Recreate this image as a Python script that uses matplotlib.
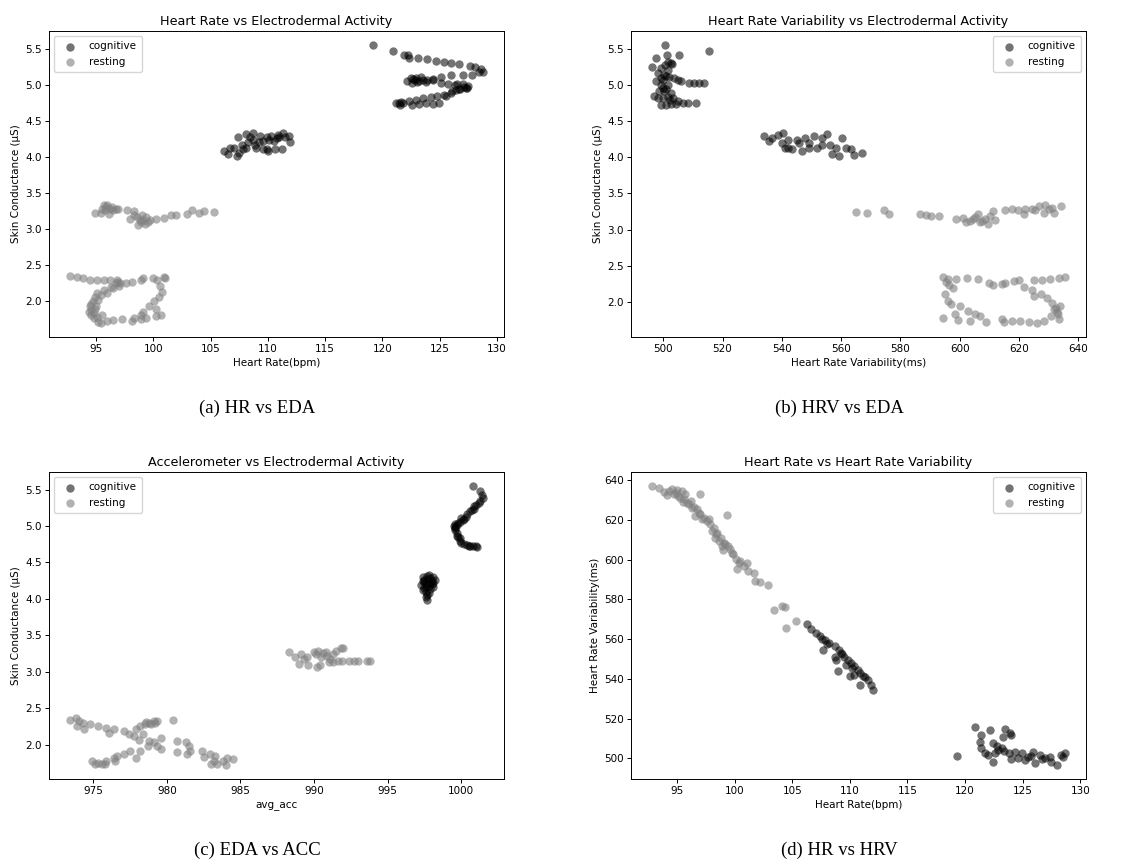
import numpy as np
import matplotlib
matplotlib.use("Agg")
import matplotlib.pyplot as plt

# ---- values, (x, y) per point ----

# (a) heart rate vs EDA
a_cog = [(119.2, 5.55), (120.9, 5.46), (121.9, 5.41), (122.2, 5.41), (122.3, 5.37), (123.1, 5.37),
         (123.9, 5.36), (124.7, 5.33), (125.4, 5.31), (126.0, 5.30), (126.7, 5.28), (127.6, 5.26),
         (128.1, 5.24), (128.6, 5.21), (128.8, 5.18), (128.4, 5.18), (127.8, 5.14), (127.0, 5.13),
         (126.0, 5.13), (125.1, 5.10), (124.4, 5.08), (123.5, 5.07), (122.9, 5.09), (122.5, 5.09),
         (122.1, 5.05), (122.6, 5.02), (123.2, 5.05), (123.8, 5.04), (124.4, 5.07), (125.1, 5.02),
         (125.7, 5.01), (126.3, 5.00), (127.0, 5.01), (127.3, 4.95), (126.8, 4.94), (126.4, 4.92),
         (126.0, 4.89), (125.4, 4.86), (124.8, 4.84), (124.2, 4.83), (123.5, 4.81), (122.9, 4.79),
         (122.3, 4.77), (121.8, 4.75), (121.2, 4.75), (121.5, 4.72), (122.6, 4.72), (123.2, 4.73),
         (123.8, 4.75), (124.4, 4.73), (124.9, 4.75), (125.5, 4.84), (126.1, 4.91), (126.7, 4.94),
         (127.4, 4.96), (126.5, 5.01), (123.4, 5.10), (123.9, 5.06), (122.8, 5.06), (123.0, 5.03),
         (121.4, 4.74), (121.6, 4.76), (127.1, 4.97), (127.5, 4.98), (122.7, 5.08),
         (106.2, 4.08), (106.5, 4.04), (107.0, 4.13), (107.3, 4.01), (107.4, 4.27), (107.7, 4.17),
         (108.1, 4.32), (108.3, 4.20), (108.7, 4.24), (109.0, 4.13), (109.3, 4.29), (109.6, 4.22),
         (109.9, 4.27), (110.0, 4.08), (110.3, 4.29), (110.6, 4.11), (110.9, 4.31), (111.2, 4.11),
         (111.5, 4.27), (111.8, 4.29), (111.9, 4.21), (108.7, 4.33), (107.8, 4.11), (109.9, 4.11),
         (110.5, 4.22), (106.7, 4.13), (108.1, 4.13), (111.3, 4.33), (109.6, 4.11), (109.2, 4.20),
         (108.4, 4.27), (110.1, 4.24), (110.8, 4.26), (107.5, 4.05), (108.9, 4.17), (111.0, 4.28)]
a_rest = [(100.9, 3.16), (101.5, 3.19), (102.0, 3.19), (102.9, 3.21), (103.4, 3.27), (104.0, 3.22),
          (104.4, 3.25), (105.3, 3.24), (94.9, 3.23), (95.4, 3.23), (95.7, 3.33), (96.0, 3.34),
          (96.2, 3.28), (95.8, 3.26), (96.5, 3.26), (96.9, 3.28), (97.7, 3.27), (98.3, 3.25),
          (98.0, 3.14), (98.6, 3.17), (98.9, 3.10), (99.1, 3.12), (99.4, 3.17), (99.7, 3.12),
          (100.2, 3.14), (98.7, 3.06), (98.3, 3.19), (95.5, 3.28), (96.1, 3.21), (96.7, 3.28),
          (99.0, 3.19), (99.3, 3.07), (95.9, 3.30), (96.4, 3.31), (98.8, 3.13), (99.5, 3.10),
          (92.7, 2.35), (93.3, 2.34), (93.9, 2.33), (94.5, 2.30), (95.1, 2.30), (95.7, 2.30),
          (96.2, 2.29), (96.8, 2.29), (96.7, 2.25), (97.0, 2.22), (96.5, 2.18), (96.0, 2.12),
          (95.4, 2.09), (94.9, 2.06), (94.7, 2.00), (94.5, 1.93), (94.4, 1.86), (94.6, 1.81),
          (94.8, 1.77), (95.2, 1.72), (95.4, 1.70), (96.0, 1.73), (96.5, 1.74), (97.3, 1.75),
          (98.1, 1.73), (98.9, 1.75), (99.4, 1.77), (100.2, 1.80), (100.7, 1.81), (99.1, 1.86),
          (99.6, 1.93), (100.1, 2.00), (100.5, 2.06), (100.8, 2.13), (100.6, 2.21), (100.9, 2.34),
          (100.3, 2.29), (100.0, 2.32), (99.1, 2.32), (98.9, 2.29), (98.1, 2.27), (97.6, 2.26),
          (97.1, 2.26), (95.7, 2.16), (95.1, 2.11), (95.2, 2.02), (94.9, 1.90), (94.6, 1.88),
          (95.1, 1.79), (95.5, 1.81), (98.9, 1.81), (98.3, 1.77), (100.2, 1.90), (94.6, 1.96),
          (94.8, 1.84), (95.0, 1.94), (96.3, 2.20), (96.9, 2.27), (101.0, 2.32)]

# (b) heart rate variability vs EDA
b_cog = [(500.7, 5.55), (515.3, 5.46), (505.4, 5.41), (497.5, 5.37), (496.1, 5.25), (501.1, 5.41),
         (501.5, 5.32), (502.6, 5.30), (499.2, 5.23), (498.1, 5.16), (500.3, 5.14), (502.0, 5.11),
         (503.7, 5.09), (504.9, 5.07), (506.0, 5.05), (497.5, 5.05), (499.2, 5.00), (500.9, 4.94),
         (498.6, 4.91), (496.9, 4.85), (498.1, 4.82), (499.8, 4.82), (501.5, 4.83), (503.2, 4.82),
         (504.9, 4.77), (506.6, 4.75), (508.3, 4.75), (499.2, 4.72), (500.9, 4.72), (502.6, 4.73),
         (504.3, 4.73), (511.1, 4.75), (508.8, 5.03), (510.5, 5.03), (512.2, 5.03), (513.9, 5.03),
         (501.5, 5.00), (500.3, 4.91), (502.6, 4.89), (499.2, 5.09), (501.5, 5.20), (500.0, 5.06),
         (501.0, 5.12), (499.8, 4.96), (502.2, 4.79), (503.0, 5.29), (500.6, 5.27),
         (534.0, 4.29), (535.5, 4.22), (536.6, 4.27), (538.8, 4.31), (540.5, 4.33), (541.1, 4.13),
         (542.2, 4.24), (543.4, 4.11), (545.1, 4.24), (546.8, 4.08), (547.9, 4.27), (549.0, 4.13),
         (550.7, 4.29), (551.9, 4.13), (553.6, 4.17), (555.3, 4.32), (556.4, 4.17), (558.1, 4.13),
         (557.0, 4.04), (559.3, 4.01), (560.4, 4.27), (561.5, 4.13), (563.2, 4.11), (564.3, 4.03),
         (566.9, 4.06), (539.9, 4.20), (545.7, 4.20), (553.6, 4.27), (549.0, 4.20), (542.2, 4.13)]
b_rest = [(564.9, 3.25), (568.6, 3.23), (574.3, 3.27), (576.2, 3.22), (586.6, 3.21), (588.5, 3.20),
          (590.4, 3.19), (593.0, 3.19), (598.9, 3.14), (601.1, 3.16), (603.4, 3.12), (605.1, 3.17),
          (606.8, 3.10), (608.5, 3.14), (610.2, 3.19), (611.9, 3.13), (611.1, 3.26), (615.3, 3.27),
          (617.6, 3.28), (619.8, 3.27), (622.1, 3.28), (624.4, 3.29), (626.6, 3.33), (628.9, 3.34),
          (631.2, 3.30), (634.0, 3.33), (628.4, 3.23), (631.8, 3.23), (621.5, 3.21), (606.2, 3.21),
          (602.2, 3.10), (609.6, 3.08), (604.5, 3.14), (607.5, 3.12), (625.5, 3.27), (630.0, 3.29),
          (594.3, 2.35), (596.0, 2.32), (598.9, 2.32), (602.3, 2.33), (606.2, 2.32), (609.9, 2.27),
          (594.9, 2.11), (596.0, 2.02), (597.7, 2.20), (597.2, 1.97), (600.0, 1.94), (602.8, 1.88),
          (605.1, 1.84), (606.8, 1.81), (609.0, 1.73), (594.3, 1.78), (598.3, 1.83), (599.5, 1.75),
          (603.4, 1.74), (611.3, 2.24), (614.2, 2.25), (615.3, 2.27), (618.2, 2.29), (619.9, 2.30),
          (621.6, 2.21), (624.4, 2.16), (627.3, 2.11), (629.5, 2.05), (631.2, 1.99), (631.8, 1.90),
          (630.7, 1.81), (628.4, 1.74), (626.1, 1.71), (623.3, 1.72), (620.4, 1.74), (617.6, 1.74),
          (614.8, 1.73), (624.9, 2.30), (627.7, 2.30), (630.6, 2.32), (633.4, 2.33), (635.6, 2.34),
          (633.9, 1.95), (632.9, 1.86), (633.4, 1.77), (624.9, 2.08), (614.2, 1.77), (632.5, 1.92),
          (633.0, 1.83), (595.5, 2.28), (596.5, 2.24)]

# (c) accelerometer vs EDA
c_cog = [(1000.8, 5.55), (1001.3, 5.48), (1001.5, 5.39), (1001.3, 5.34), (1000.9, 5.27), (1000.6, 5.20),
         (1000.3, 5.13), (999.9, 5.06), (999.6, 5.03), (999.6, 4.97), (999.7, 4.90), (999.9, 4.83),
         (1000.0, 4.77), (1000.4, 4.74), (1000.8, 4.73), (1001.1, 4.71), (999.5, 5.00), (1000.2, 5.10),
         (1000.9, 5.23), (1001.2, 5.32), (999.8, 5.04), (999.9, 4.80), (1000.6, 4.72), (1001.4, 5.43),
         (1001.0, 5.29), (1000.7, 5.22), (1000.4, 5.16), (1000.1, 5.08), (999.7, 5.02), (999.6, 4.94),
         (999.7, 4.87), (999.8, 4.85), (1000.2, 4.75), (1000.5, 4.73), (1001.0, 4.72), (999.6, 4.99),
         (1000.0, 5.11),
         (997.4, 4.30), (997.8, 4.33), (998.1, 4.30), (997.6, 4.21), (998.0, 4.21), (997.4, 4.12),
         (997.9, 4.14), (998.1, 4.17), (997.7, 4.05), (997.7, 3.99), (997.5, 4.26), (998.2, 4.26),
         (997.6, 4.17), (997.3, 4.19), (997.9, 4.28), (997.5, 4.23), (997.7, 4.27), (997.9, 4.22),
         (997.6, 4.10), (997.8, 4.08), (997.5, 4.15), (998.0, 4.25), (997.7, 4.31), (997.4, 4.24),
         (997.8, 4.18), (997.6, 4.02), (998.1, 4.22)]
c_rest = [(988.3, 3.27), (988.7, 3.20), (989.1, 3.25), (989.0, 3.11), (989.3, 3.18), (989.6, 3.09),
          (990.0, 3.27), (990.3, 3.29), (990.2, 3.07), (990.5, 3.20), (990.8, 3.27), (991.0, 3.13),
          (991.3, 3.25), (991.6, 3.15), (991.8, 3.32), (992.0, 3.33), (991.9, 3.15), (992.4, 3.15),
          (992.7, 3.15), (993.0, 3.15), (993.6, 3.15), (993.8, 3.15), (991.3, 3.14), (990.4, 3.09),
          (990.9, 3.22), (989.5, 3.20), (990.1, 3.24), (990.6, 3.26), (991.1, 3.18), (991.5, 3.28),
          (973.4, 2.34), (973.8, 2.36), (974.0, 2.32), (974.3, 2.30), (973.9, 2.26), (974.4, 2.21),
          (974.8, 2.29), (975.3, 2.26), (975.9, 2.23), (976.1, 2.16), (976.4, 2.21), (977.1, 2.19),
          (977.4, 2.15), (977.8, 2.12), (977.9, 2.21), (978.1, 2.07), (978.2, 2.26), (978.5, 2.28),
          (978.8, 2.30), (979.1, 2.33), (979.3, 2.32), (978.4, 2.14), (978.8, 2.05), (979.1, 2.04),
          (979.3, 1.98), (979.6, 2.09), (979.6, 1.94), (978.7, 1.98), (978.2, 1.91), (977.9, 1.82),
          (977.5, 1.91), (977.1, 1.87), (976.6, 1.84), (976.4, 1.81), (976.5, 1.77), (974.9, 1.77),
          (975.3, 1.75), (975.6, 1.74), (975.8, 1.73), (980.4, 2.34), (980.7, 2.05), (981.3, 2.03),
          (981.5, 1.98), (981.6, 1.91), (981.4, 1.87), (980.7, 1.90), (982.4, 1.91), (982.5, 1.83),
          (982.9, 1.87), (983.3, 1.84), (983.0, 1.73), (983.4, 1.73), (983.8, 1.77), (984.1, 1.81),
          (984.5, 1.80), (984.0, 1.72), (983.2, 1.78), (975.9, 1.78), (978.6, 2.31), (978.9, 2.28),
          (979.2, 2.30), (975.1, 1.74)]

# (d) heart rate vs heart rate variability
d_cog = [(106.3, 567.8), (106.6, 565.1), (107.1, 563.1), (107.4, 561.4), (107.8, 559.4), (107.7, 554.3),
         (108.2, 558.1), (108.7, 556.4), (109.1, 554.7), (108.7, 551.0), (109.0, 544.1), (109.2, 553.0),
         (109.5, 551.0), (109.8, 549.6), (110.1, 547.9), (110.0, 541.2), (110.4, 546.3), (110.7, 544.6),
         (110.9, 537.0), (110.9, 542.9), (111.3, 540.9), (111.6, 539.2), (111.8, 537.0), (112.0, 534.5),
         (108.8, 549.6), (109.7, 547.1), (110.4, 542.1), (107.6, 560.2), (108.0, 557.5), (109.3, 552.4),
         (110.2, 545.3), (111.1, 541.5),
         (119.3, 501.2), (120.9, 515.6), (121.4, 511.8), (121.3, 508.4), (121.4, 505.0), (121.7, 502.5),
         (122.2, 514.3), (122.4, 507.6), (122.4, 498.3), (122.9, 504.2), (123.5, 514.6), (123.3, 510.9),
         (123.9, 512.6), (123.8, 502.5), (124.0, 499.5), (124.3, 503.4), (124.9, 502.5), (125.5, 500.5),
         (125.9, 503.4), (126.1, 497.8), (126.5, 501.7), (126.9, 500.0), (127.4, 500.8), (127.5, 498.3),
         (128.0, 496.6), (128.3, 501.7), (128.7, 502.5), (123.2, 505.0), (122.6, 502.5), (122.0, 501.7),
         (124.6, 500.0), (125.2, 499.2), (126.7, 499.5), (128.5, 500.8), (124.0, 511.8), (122.8, 506.0),
         (123.4, 503.6), (125.7, 501.0)]
d_rest = [(92.8, 637.1), (93.4, 636.3), (93.9, 634.1), (94.3, 634.6), (94.6, 635.5), (94.9, 633.8),
          (95.1, 632.1), (95.4, 634.6), (95.6, 630.4), (95.9, 628.7), (96.2, 629.6), (96.5, 626.7),
          (96.7, 625.4), (97.0, 632.9), (97.0, 622.8), (97.3, 621.2), (97.6, 619.5), (97.9, 617.8),
          (98.2, 616.1), (98.5, 613.6), (98.8, 611.1), (99.3, 622.3), (99.1, 608.5), (99.4, 606.8),
          (99.6, 605.2), (99.9, 602.6), (100.1, 600.1), (100.4, 598.4), (100.8, 596.8), (101.2, 594.2),
          (101.7, 593.4), (101.8, 589.2), (102.2, 588.7), (102.9, 587.2), (103.4, 574.9), (104.1, 576.9),
          (104.4, 576.1), (104.5, 565.5), (105.3, 569.0), (95.3, 631.2), (96.0, 627.9), (96.9, 623.7),
          (97.8, 620.3), (98.4, 612.7), (98.6, 609.4), (99.2, 607.7), (99.8, 603.5), (100.5, 599.3),
          (94.1, 632.4), (95.7, 633.3), (96.6, 622.0), (98.0, 614.4), (98.9, 606.8), (100.2, 595.1),
          (101.1, 598.4), (94.7, 633.0), (95.0, 635.0), (95.5, 629.0), (96.3, 625.8), (97.2, 620.5),
          (98.3, 610.8), (99.0, 604.9)]

panels = [
    (a_cog, a_rest, "Heart Rate vs Electrodermal Activity", "Heart Rate(bpm)", "Skin Conductance (μS)",
     "upper left", "(a) HR vs EDA"),
    (b_cog, b_rest, "Heart Rate Variability vs Electrodermal Activity", "Heart Rate Variability(ms)",
     "Skin Conductance (μS)", "upper right", "(b) HRV vs EDA"),
    (c_cog, c_rest, "Accelerometer vs Electrodermal Activity", "avg_acc", "Skin Conductance (μS)",
     "upper left", "(c) EDA vs ACC"),
    (d_cog, d_rest, "Heart Rate vs Heart Rate Variability", "Heart Rate(bpm)", "Heart Rate Variability(ms)",
     "upper right", "(d) HR vs HRV"),
]

plt.rcParams["font.family"] = "DejaVu Sans"
plt.rcParams["axes.linewidth"] = 0.7
plt.rcParams["xtick.major.width"] = 0.7
plt.rcParams["ytick.major.width"] = 0.7
plt.rcParams["xtick.major.size"] = 2.6
plt.rcParams["ytick.major.size"] = 2.6

W, H = 1134, 863
fig = plt.figure(figsize=(W / 100, H / 100), dpi=100)

# axes boxes in pixels: left, top, right, bottom
boxes = [(49, 31, 504, 337), (631, 31, 1086, 337), (49, 472, 504, 779), (631, 472, 1086, 779)]
caps = [(257, 408), (839, 408), (257, 850), (839, 850)]

for (cog, rest, title, xl, yl, loc, cap), (l, t, r, b), (cx, cy) in zip(panels, boxes, caps):
    ax = fig.add_axes([l / W, 1 - b / H, (r - l) / W, (b - t) / H])
    cog = np.array(cog)
    rest = np.array(rest)
    ax.scatter(cog[:, 0], cog[:, 1], s=36, color="black", alpha=0.55, linewidths=0, label="cognitive")
    ax.scatter(rest[:, 0], rest[:, 1], s=36, color="gray", alpha=0.6, linewidths=0, label="resting")
    ax.set_title(title, fontsize=9.2, pad=4.5)
    ax.set_xlabel(xl, fontsize=7.5, labelpad=2.5)
    ax.set_ylabel(yl, fontsize=7.5, labelpad=3)
    ax.tick_params(labelsize=7.5, pad=2.5)
    ax.legend(loc=loc, fontsize=7.5, borderpad=0.5, labelspacing=0.5, handletextpad=0.8)
    fig.text(cx / W, 1 - cy / H, cap, ha="center", va="center", fontsize=13.5,
             family="Liberation Serif")

fig.savefig("out.png", dpi=100)
